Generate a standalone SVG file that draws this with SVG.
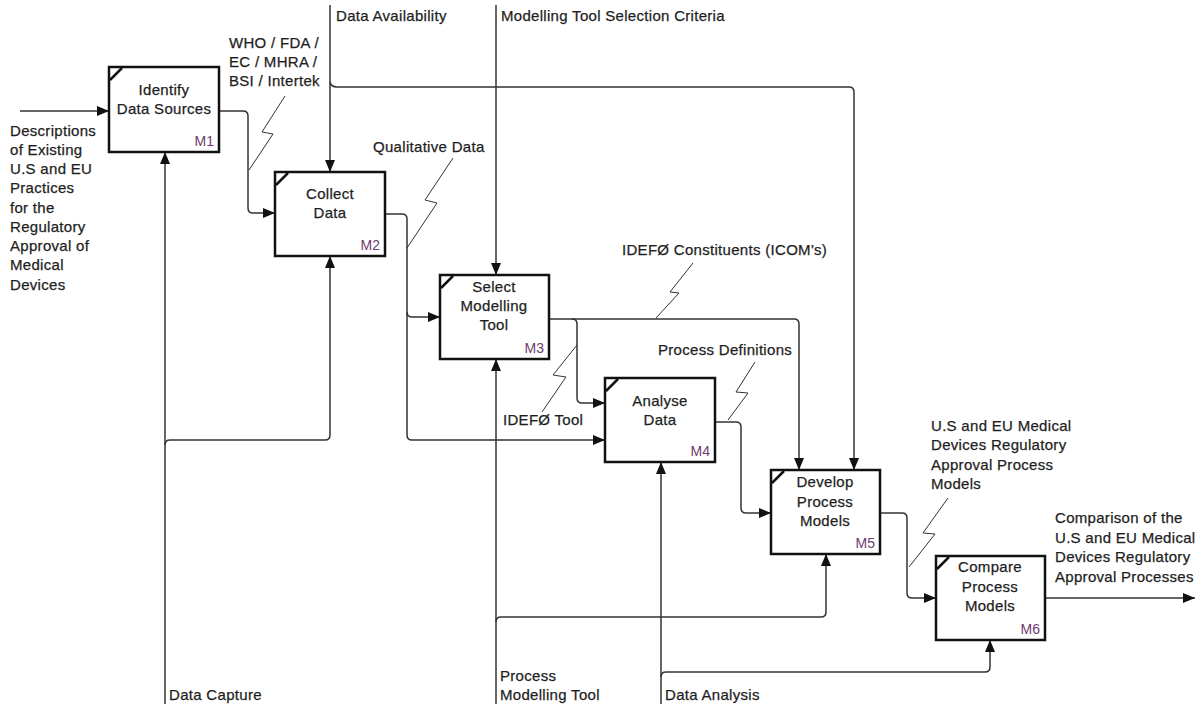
<svg xmlns="http://www.w3.org/2000/svg" width="1200" height="707" viewBox="0 0 1200 707">
<style>
.box{fill:#fff;stroke:#111;stroke-width:2.5}
.tick{stroke:#111;stroke-width:2.5}
.c{fill:none;stroke:#333;stroke-width:1.5}
.z{fill:none;stroke:#333;stroke-width:1}
text{font-family:"Liberation Sans",Arial,sans-serif;font-size:15px;fill:#1e1e1e;stroke:#1e1e1e;stroke-width:0.25;letter-spacing:0.3px}
.bl{text-anchor:middle}
.m{font-size:14px;fill:#6e3c6e;stroke:none;text-anchor:end;letter-spacing:0}
</style>
<defs>
<marker id="ah" markerUnits="userSpaceOnUse" markerWidth="13" markerHeight="11" refX="12" refY="5" orient="auto">
<path d="M0,0 L12,5 L0,10 z" fill="#111"/>
</marker>
</defs>
<rect width="1200" height="707" fill="#fff"/>
<g id="connectors">
<path class="c" d="M20 111 H109" marker-end="url(#ah)"/>
<path class="c" d="M219 111 H243 Q248 111 248 116 V208 Q248 213 253 213 H275" marker-end="url(#ah)"/>
<path class="c" d="M330 5 V172" marker-end="url(#ah)"/>
<path class="c" d="M330 82 Q331 87 337 87 H849 Q854 87 854 92 V470" marker-end="url(#ah)"/>
<path class="c" d="M496 5 V275" marker-end="url(#ah)"/>
<path class="c" d="M384 214 H402 Q407 214 407 219 V312 Q407 317 412 317 H440" marker-end="url(#ah)"/>
<path class="c" d="M407 312 V435 Q407 440 412 440 H605" marker-end="url(#ah)"/>
<path class="c" d="M549 319 H794 Q799 319 799 324 V470" marker-end="url(#ah)"/>
<path class="c" d="M572 319 Q577 319 577 324 V398 Q577 403 582 403 H605" marker-end="url(#ah)"/>
<path class="c" d="M715 422 H736 Q741 422 741 427 V508 Q741 513 746 513 H771" marker-end="url(#ah)"/>
<path class="c" d="M880 513 H902 Q907 513 907 518 V593 Q907 598 912 598 H936" marker-end="url(#ah)"/>
<path class="c" d="M1045 598 H1195" marker-end="url(#ah)"/>
<path class="c" d="M165 704 V152" marker-end="url(#ah)"/>
<path class="c" d="M165 445 Q165 440 170 440 H325 Q330 440 330 435 V256" marker-end="url(#ah)"/>
<path class="c" d="M496 704 V359" marker-end="url(#ah)"/>
<path class="c" d="M496 622 Q496 617 501 617 H821 Q826 617 826 612 V554" marker-end="url(#ah)"/>
<path class="c" d="M661 704 V462" marker-end="url(#ah)"/>
<path class="c" d="M661 677 Q661 672 666 672 H985 Q990 672 990 667 V640" marker-end="url(#ah)"/>
<polyline class="z" points="285,96 262,132 273,134 249,170"/>
<polyline class="z" points="453,158 425,200 437,203 407,248"/>
<polyline class="z" points="693,263 670,292 679,293 656,318"/>
<polyline class="z" points="577,345 553,375 566,377 542,412"/>
<polyline class="z" points="755,362 736,392 748,393 728,420"/>
<polyline class="z" points="948,498 923,533 935,534 909,567"/>
</g>
<g id="labels">
<text x="10" y="136">Descriptions</text>
<text x="10" y="155">of Existing</text>
<text x="10" y="174">U.S and EU</text>
<text x="10" y="193">Practices</text>
<text x="10" y="213">for the</text>
<text x="10" y="232">Regulatory</text>
<text x="10" y="251">Approval of</text>
<text x="10" y="270">Medical</text>
<text x="10" y="290">Devices</text>
<text x="229" y="48">WHO / FDA /</text>
<text x="229" y="67">EC / MHRA /</text>
<text x="229" y="86">BSI / Intertek</text>
<text x="336" y="21">Data Availability</text>
<text x="501" y="21">Modelling Tool Selection Criteria</text>
<text x="373" y="152">Qualitative Data</text>
<text x="622" y="255">IDEFØ Constituents (ICOM's)</text>
<text x="658" y="355">Process Definitions</text>
<text x="503" y="425">IDEFØ Tool</text>
<text x="931" y="431">U.S and EU Medical</text>
<text x="931" y="450">Devices Regulatory</text>
<text x="931" y="470">Approval Process</text>
<text x="931" y="489">Models</text>
<text x="1055" y="523">Comparison of the</text>
<text x="1055" y="543">U.S and EU Medical</text>
<text x="1055" y="562">Devices Regulatory</text>
<text x="1055" y="582">Approval Processes</text>
<text x="169" y="700">Data Capture</text>
<text x="500" y="681">Process</text>
<text x="500" y="700">Modelling Tool</text>
<text x="665" y="700">Data Analysis</text>
</g>
<g id="M1">
<rect class="box" x="109" y="67" width="110" height="85"/>
<line class="tick" x1="110" y1="80" x2="122" y2="68"/>
<text class="bl" x="164" y="95">Identify</text>
<text class="bl" x="164" y="114">Data Sources</text>
<text class="m" x="214" y="146">M1</text>
</g>
<g id="M2">
<rect class="box" x="275" y="172" width="110" height="84"/>
<line class="tick" x1="276" y1="185" x2="288" y2="173"/>
<text class="bl" x="330" y="199">Collect</text>
<text class="bl" x="330" y="218">Data</text>
<text class="m" x="380" y="250">M2</text>
</g>
<g id="M3">
<rect class="box" x="440" y="275" width="109" height="84"/>
<line class="tick" x1="441" y1="288" x2="453" y2="276"/>
<text class="bl" x="494" y="292">Select</text>
<text class="bl" x="494" y="311">Modelling</text>
<text class="bl" x="494" y="330">Tool</text>
<text class="m" x="544" y="353">M3</text>
</g>
<g id="M4">
<rect class="box" x="605" y="378" width="110" height="84"/>
<line class="tick" x1="606" y1="391" x2="618" y2="379"/>
<text class="bl" x="660" y="406">Analyse</text>
<text class="bl" x="660" y="425">Data</text>
<text class="m" x="710" y="456">M4</text>
</g>
<g id="M5">
<rect class="box" x="771" y="470" width="109" height="84"/>
<line class="tick" x1="772" y1="483" x2="784" y2="471"/>
<text class="bl" x="825" y="487">Develop</text>
<text class="bl" x="825" y="507">Process</text>
<text class="bl" x="825" y="526">Models</text>
<text class="m" x="875" y="548">M5</text>
</g>
<g id="M6">
<rect class="box" x="936" y="556" width="109" height="84"/>
<line class="tick" x1="937" y1="569" x2="949" y2="557"/>
<text class="bl" x="990" y="572">Compare</text>
<text class="bl" x="990" y="592">Process</text>
<text class="bl" x="990" y="611">Models</text>
<text class="m" x="1040" y="634">M6</text>
</g>
</svg>
